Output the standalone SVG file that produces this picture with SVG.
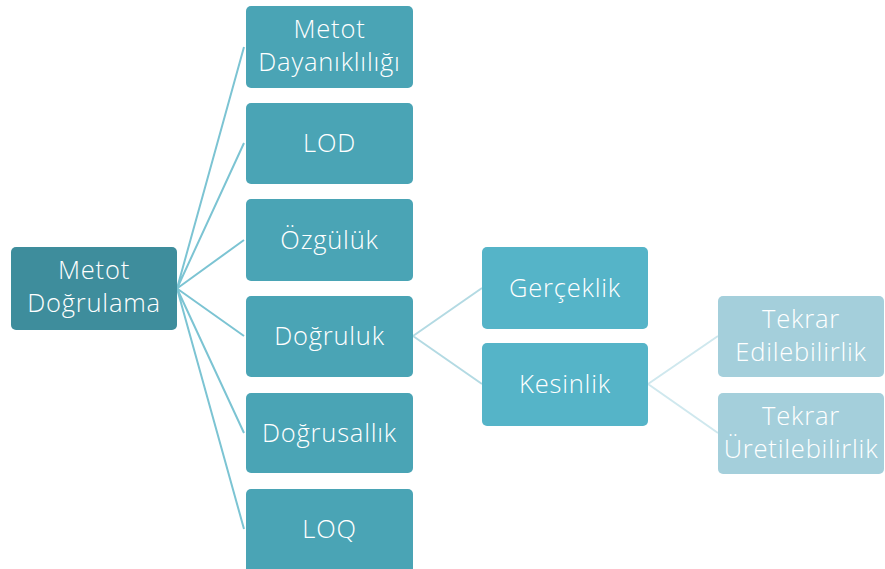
<svg xmlns="http://www.w3.org/2000/svg" width="885" height="569" viewBox="0 0 885 569">
<style>
.t{font-family:"Open Sans","Noto Sans",sans-serif;font-size:25.5px;font-weight:300;letter-spacing:0.8px;fill:#ffffff;text-anchor:middle}
.r0{fill:#3e8d9c}
.r1{fill:#4aa4b5}
.r2{fill:#55b4c8}
.r3{fill:#a4cfdb}
.c1{stroke:#7cc4d3;stroke-width:2;fill:none}
.c2{stroke:#b3dae3;stroke-width:2;fill:none}
.c3{stroke:#cfe8ee;stroke-width:2;fill:none}
</style>
<rect width="885" height="569" fill="#ffffff"/>
<g id="connectors">
<path class="c1" d="M177 288.5L244 47M177 288.5L244 143M177 288.5L244 240M177 288.5L244 336M177 288.5L244 433M177 288.5L244 529"/>
<path class="c2" d="M413 336L482 288M413 336L482 384"/>
<path class="c3" d="M648 384L718 336M648 384L718 433"/>
</g>
<g id="n-root"><rect class="r0" x="11" y="247" width="166" height="83" rx="5"/><text class="t" x="94" y="279">Metot</text><text class="t" x="94" y="312">Doğrulama</text></g>
<g id="n-dayaniklilik"><rect class="r1" x="246" y="6" width="167" height="82" rx="5"/><text class="t" x="329.5" y="38">Metot</text><text class="t" x="329.5" y="71">Dayanıklılığı</text></g>
<g id="n-lod"><rect class="r1" x="246" y="103" width="167" height="81" rx="5"/><text class="t" x="329.5" y="152">LOD</text></g>
<g id="n-ozgulluk"><rect class="r1" x="246" y="199" width="167" height="82" rx="5"/><text class="t" x="329.5" y="249">Özgülük</text></g>
<g id="n-dogruluk"><rect class="r1" x="246" y="296" width="167" height="81" rx="5"/><text class="t" x="329.5" y="345">Doğruluk</text></g>
<g id="n-dogrusallik"><rect class="r1" x="246" y="393" width="167" height="80" rx="5"/><text class="t" x="329.5" y="442">Doğrusallık</text></g>
<g id="n-loq"><rect class="r1" x="246" y="489" width="167" height="84" rx="5"/><text class="t" x="329.5" y="538">LOQ</text></g>
<g id="n-gerceklik"><rect class="r2" x="482" y="247" width="166" height="82" rx="5"/><text class="t" x="565" y="297">Gerçeklik</text></g>
<g id="n-kesinlik"><rect class="r2" x="482" y="343" width="166" height="83" rx="5"/><text class="t" x="565" y="393">Kesinlik</text></g>
<g id="n-tekrar-ed"><rect class="r3" x="718" y="296" width="166" height="81" rx="5"/><text class="t" x="801" y="328">Tekrar</text><text class="t" x="801" y="361">Edilebilirlik</text></g>
<g id="n-tekrar-ur"><rect class="r3" x="718" y="393" width="166" height="81" rx="5"/><text class="t" x="801" y="425">Tekrar</text><text class="t" x="801" y="458">Üretilebilirlik</text></g>
</svg>
